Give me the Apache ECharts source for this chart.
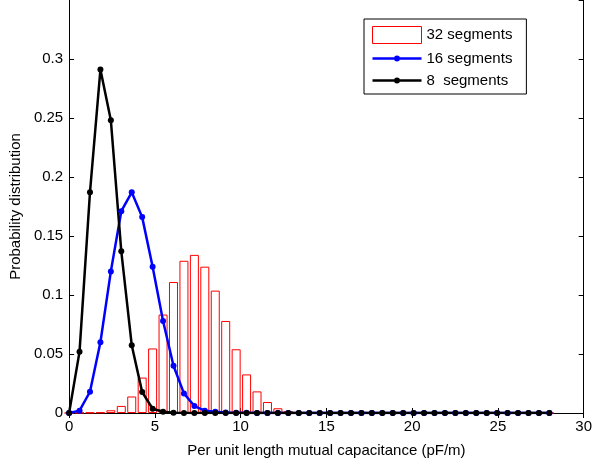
<!DOCTYPE html>
<html>
<head>
<meta charset="utf-8">
<script src="https://cdn.jsdelivr.net/npm/echarts@6/dist/echarts.min.js"></script>
<style>
html,body{margin:0;padding:0;background:#fff;}
#chart{width:595px;height:463px;}
</style>
</head>
<body>
<div id="chart"></div>
<script>
// x positions: 47 points evenly spaced from 0 to 28
const xStart = 0, xEnd = 28, nPoints = 47;
const xValues = Array.from({length: nPoints}, (_, i) => xStart + i * (xEnd - xStart) / (nPoints - 1));

const seg32 = [0, 0.0002, 0.0003, 0.0005, 0.0023, 0.006, 0.014, 0.030, 0.0547, 0.0834,
  0.111, 0.129, 0.134, 0.124, 0.1037, 0.078, 0.054, 0.0327, 0.0183, 0.0093,
  0.004, 0.0017, 0.0007, 0.0003, 0.0002, 0.0001, 0, 0, 0, 0,
  0, 0, 0, 0, 0, 0, 0, 0, 0, 0,
  0, 0, 0, 0, 0, 0, 0];
const seg16 = [0, 0.002, 0.018, 0.060, 0.120, 0.171, 0.187, 0.166, 0.124, 0.078,
  0.040, 0.0166, 0.0059, 0.002, 0.001, 0.0005, 0.0003, 0.0002, 0.0001, 0,
  0, 0, 0, 0, 0, 0, 0, 0, 0, 0,
  0, 0, 0, 0, 0, 0, 0, 0, 0, 0,
  0, 0, 0, 0, 0, 0, 0];
const seg8 = [0, 0.052, 0.187, 0.291, 0.248, 0.137, 0.0575, 0.0177, 0.0036, 0.001,
  0.0003, 0, 0, 0, 0, 0, 0, 0, 0, 0,
  0, 0, 0, 0, 0, 0, 0, 0, 0, 0,
  0, 0, 0, 0, 0, 0, 0, 0, 0, 0,
  0, 0, 0, 0, 0, 0, 0];

const seriesNames = ['32 segments', '16 segments', '8  segments'];
const xTitle = 'Per unit length mutual capacitance (pF/m)';
const yTitle = 'Probability distribution';

const pairs = arr => arr.map((v, i) => [xValues[i], v]);
const FONT = '"Liberation Sans", Arial, sans-serif';
// legend icon: a line with a small dot in the middle
const lineDotIcon = 'path://M0,7.3L21.6,7.3L21.6,9.7L0,9.7Z' +
  'M21.5,8.5A3,3 0 1,1 27.5,8.5A3,3 0 1,1 21.5,8.5Z' +
  'M27.4,7.3L49,7.3L49,9.7L27.4,9.7Z';

const chart = echarts.init(document.getElementById('chart'), null, {renderer: 'canvas'});
const tick = {show: true, inside: true, length: 5, lineStyle: {color: '#000', width: 1}};
const axLine = {show: true, onZero: false, lineStyle: {color: '#000', width: 1}};
chart.setOption({
  animation: false,
  backgroundColor: '#fff',
  textStyle: {fontFamily: FONT},
  grid: {left: 66, right: 11, top: -1, bottom: 50, containLabel: false},
  legend: {
    orient: 'vertical', left: 364, top: 19,
    backgroundColor: '#fff',
    borderColor: '#000', borderWidth: 1, borderRadius: 0,
    padding: [7, 14, 6, 8],
    itemWidth: 49, itemHeight: 17, itemGap: 7,
    symbolKeepAspect: true,
    textStyle: {fontSize: 15, color: '#000', fontFamily: FONT},
    data: [
      {name: seriesNames[0], icon: 'rect', itemStyle: {color: '#fff', borderColor: '#ff0000', borderWidth: 1}},
      {name: seriesNames[1], icon: lineDotIcon, itemStyle: {color: '#0000ff', borderWidth: 0}},
      {name: seriesNames[2], icon: lineDotIcon, itemStyle: {color: '#000', borderWidth: 0}}
    ]
  },
  xAxis: [{
    type: 'value', min: 0, max: 30, interval: 5, position: 'bottom',
    name: xTitle, nameLocation: 'middle', nameGap: 30,
    nameTextStyle: {fontSize: 15, color: '#000', fontFamily: FONT},
    axisLine: axLine, axisTick: tick, splitLine: {show: false},
    axisLabel: {fontSize: 15, color: '#000', margin: 6, fontFamily: FONT}
  }, {
    type: 'value', min: 0, max: 30, interval: 5, position: 'top',
    axisLine: {show: false}, axisTick: tick, splitLine: {show: false},
    axisLabel: {show: false}
  }],
  yAxis: [{
    type: 'value', min: 0, max: 0.35, interval: 0.05, position: 'left',
    name: yTitle, nameLocation: 'middle', nameGap: 44, nameRotate: 90,
    nameTextStyle: {fontSize: 15, color: '#000', fontFamily: FONT},
    axisLine: axLine, axisTick: tick, splitLine: {show: false},
    axisLabel: {fontSize: 15, color: '#000', margin: 6, showMaxLabel: false, fontFamily: FONT}
  }, {
    type: 'value', min: 0, max: 0.35, interval: 0.05, position: 'right',
    axisLine: axLine, axisTick: tick, splitLine: {show: false},
    axisLabel: {show: false}
  }],
  series: [{
    name: seriesNames[0], type: 'bar', xAxisIndex: 0, yAxisIndex: 0,
    data: pairs(seg32), barWidth: 9,
    itemStyle: {color: '#fff', borderColor: '#ff0000', borderWidth: 1}
  }, {
    name: seriesNames[1], type: 'line', xAxisIndex: 0, yAxisIndex: 0,
    data: pairs(seg16), symbol: 'circle', symbolSize: 6, showAllSymbol: true,
    lineStyle: {color: '#0000ff', width: 2.5}, itemStyle: {color: '#0000ff'}
  }, {
    name: seriesNames[2], type: 'line', xAxisIndex: 0, yAxisIndex: 0,
    data: pairs(seg8), symbol: 'circle', symbolSize: 6, showAllSymbol: true,
    lineStyle: {color: '#000', width: 2.5}, itemStyle: {color: '#000'}
  }]
});
</script>
</body>
</html>
